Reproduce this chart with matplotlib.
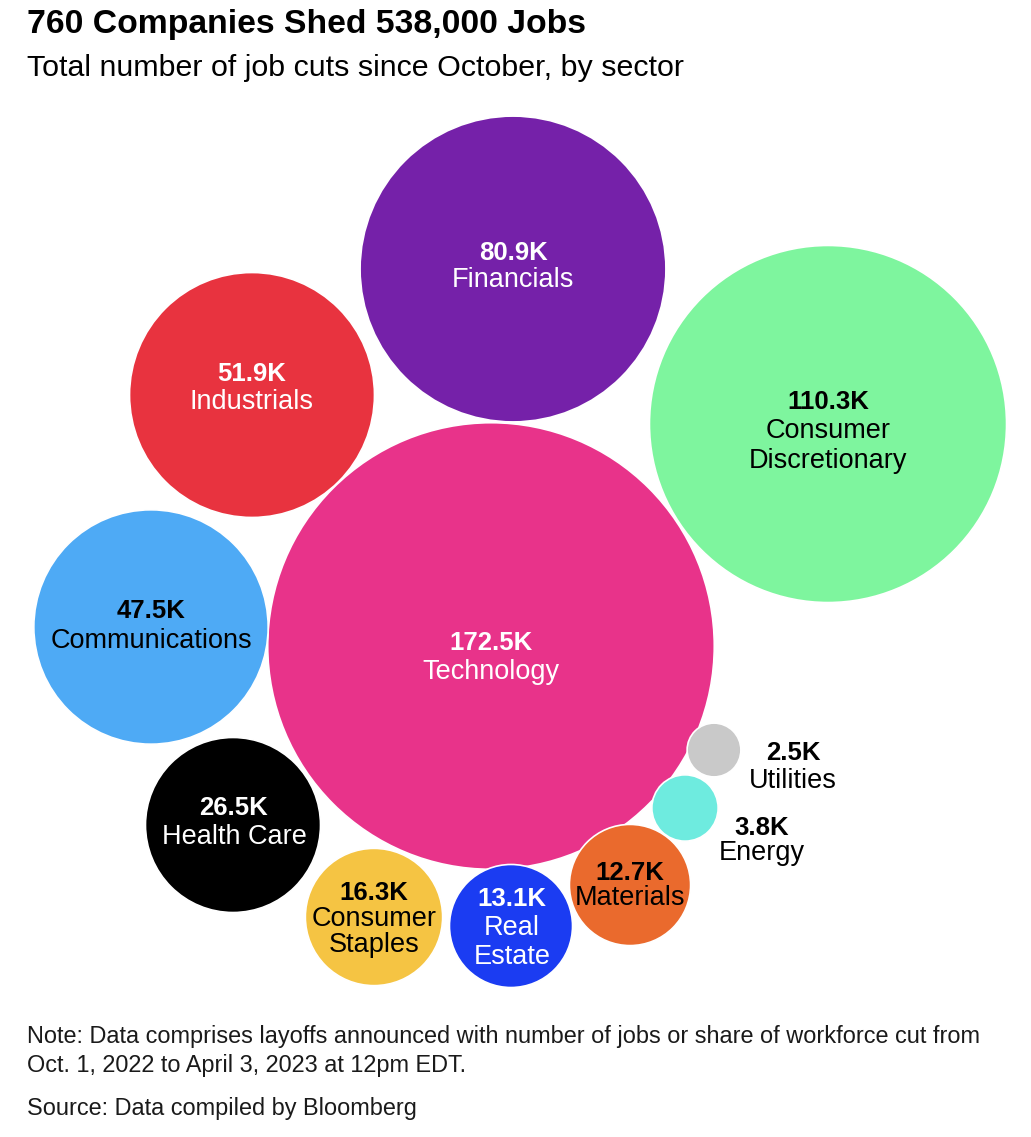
import numpy as np
import matplotlib
matplotlib.use("Agg")
import matplotlib.pyplot as plt
from matplotlib.patches import Circle

plt.rcParams['font.family'] = ['Liberation Sans', 'DejaVu Sans']

# ---- data ----
sectors = ["Technology", "Consumer\nDiscretionary", "Financials", "Industrials",
           "Communications", "Health Care", "Consumer\nStaples", "Real\nEstate",
           "Materials", "Energy", "Utilities"]
job_cuts_k = [172.5, 110.3, 80.9, 51.9, 47.5, 26.5, 16.3, 13.1, 12.7, 3.8, 2.5]
value_labels = ["172.5K", "110.3K", "80.9K", "51.9K", "47.5K", "26.5K",
                "16.3K", "13.1K", "12.7K", "3.8K", "2.5K"]

# ---- layout / style (pixel space of the figure) ----
centers = [(491, 646), (828, 424), (513, 269), (252, 395), (151, 627),
           (233, 825), (374, 917), (511, 926), (630, 885), (685, 808), (714, 750)]
label_pos = [(491, 650, 29), (828, 409, 29.5), (513, 260, 27), (252, 381, 28),
             (151, 618, 30), (234, 815, 29), (374, 900, 26), (512, 906, 29),
             (630, 880, 25), (762, 835, 25), (793, 760, 28)]
colors = ["#E8338A", "#7EF59E", "#7521A9", "#E8333F", "#4EAAF5", "#000000",
          "#F5C443", "#1B3CF2", "#EA6A2D", "#6EEBDF", "#C9C9C9"]
text_colors = ["white", "black", "white", "white", "black", "white",
               "black", "white", "black", "black", "black"]
SCALE = 17.0  # px per sqrt(thousand jobs), area proportional to value

W, H = 1031, 1137
fig = plt.figure(figsize=(W / 100, H / 100), dpi=100)
ax = fig.add_axes([0, 0, 1, 1])
ax.set_xlim(0, W)
ax.set_ylim(H, 0)
ax.set_aspect('equal')
ax.axis('off')

order = np.argsort(job_cuts_k)[::-1]
for i in order:
    r = SCALE * np.sqrt(job_cuts_k[i])
    ax.add_patch(Circle(centers[i], r, facecolor=colors[i], edgecolor='white',
                        linewidth=1.2, zorder=2))

for i in range(len(sectors)):
    x, yb, step = label_pos[i]
    ax.text(x, yb, value_labels[i], ha='center', va='baseline', fontsize=18.5,
            fontweight='bold', color=text_colors[i], zorder=3)
    for j, line in enumerate(sectors[i].split("\n")):
        ax.text(x, yb + step * (j + 1), line, ha='center', va='baseline',
                fontsize=19.5, color=text_colors[i], zorder=3)

ax.text(27, 33, "760 Companies Shed 538,000 Jobs", ha='left', va='baseline',
        fontsize=24.3, fontweight='bold', color='black')
ax.text(27, 76, "Total number of job cuts since October, by sector", ha='left',
        va='baseline', fontsize=21.9, color='black')
ax.text(27, 1043, "Note: Data comprises layoffs announced with number of jobs or share of workforce cut from",
        ha='left', va='baseline', fontsize=16.9, color='#1a1a1a')
ax.text(27, 1072, "Oct. 1, 2022 to April 3, 2023 at 12pm EDT.",
        ha='left', va='baseline', fontsize=16.9, color='#1a1a1a')
ax.text(27, 1115, "Source: Data compiled by Bloomberg",
        ha='left', va='baseline', fontsize=16.9, color='#1a1a1a')

fig.savefig("out.png", dpi=100, facecolor='white')
